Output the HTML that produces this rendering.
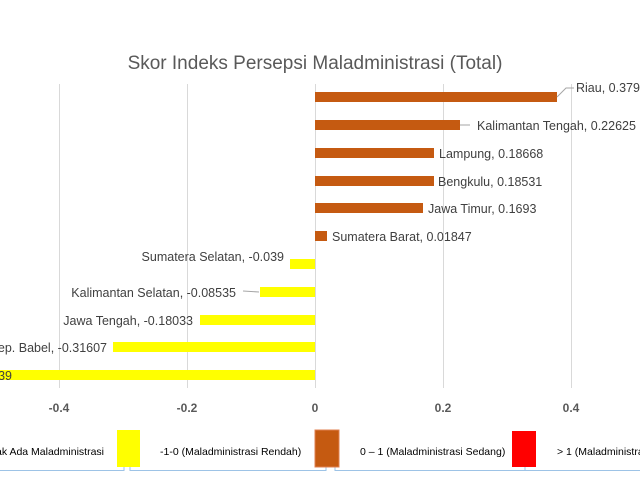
<!DOCTYPE html>
<html><head><meta charset="utf-8"><style>
html,body{margin:0;padding:0;background:#fff;}
svg{display:block;font-family:"Liberation Sans",sans-serif;}
</style></head><body>
<svg width="640" height="480" viewBox="0 0 640 480">
<rect width="640" height="480" fill="#fff"/>
<text x="315" y="69" font-size="19" fill="#595959" text-anchor="middle">Skor Indeks Persepsi Maladministrasi (Total)</text>
<g stroke="#d9d9d9" stroke-width="1">
<line x1="59.5" y1="84" x2="59.5" y2="388"/>
<line x1="187.5" y1="84" x2="187.5" y2="388"/>
<line x1="315.5" y1="84" x2="315.5" y2="388"/>
<line x1="443.5" y1="84" x2="443.5" y2="388"/>
<line x1="571.5" y1="84" x2="571.5" y2="388"/>
</g>
<g fill="#c55a11">
<rect x="315" y="92" width="242" height="10"/>
<rect x="315" y="120" width="145" height="10"/>
<rect x="315" y="148" width="119" height="10"/>
<rect x="315" y="176" width="119" height="10"/>
<rect x="315" y="203" width="108" height="10"/>
<rect x="315" y="231" width="12" height="10"/>
</g>
<g fill="#ffff00">
<rect x="290" y="259" width="25" height="10"/>
<rect x="260" y="287" width="55" height="10"/>
<rect x="200" y="315" width="115" height="10"/>
<rect x="113" y="342" width="202" height="10"/>
<rect x="0" y="370" width="315" height="10"/>
</g>
<g stroke="#a6a6a6" stroke-width="1" fill="none">
<polyline points="557,97 566,88 574,88"/>
<line x1="460" y1="125" x2="470" y2="125"/>
<line x1="243" y1="291" x2="259" y2="292"/>
</g>
<g font-size="12.5" fill="#404040">
<text x="576" y="92">Riau, 0.379</text>
<text x="477" y="130">Kalimantan Tengah, 0.22625</text>
<text x="439" y="158">Lampung, 0.18668</text>
<text x="438" y="186">Bengkulu, 0.18531</text>
<text x="428" y="213">Jawa Timur, 0.1693</text>
<text x="332" y="241">Sumatera Barat, 0.01847</text>
<text x="284" y="261" text-anchor="end">Sumatera Selatan, -0.039</text>
<text x="236" y="297" text-anchor="end">Kalimantan Selatan, -0.08535</text>
<text x="193" y="325" text-anchor="end">Jawa Tengah, -0.18033</text>
<text x="107" y="352" text-anchor="end">Kep. Babel, -0.31607</text>
<text x="12" y="380" text-anchor="end">-0.39</text>
</g>
<g font-size="12" font-weight="bold" fill="#595959" text-anchor="middle">
<text x="59" y="412">-0.4</text>
<text x="187" y="412">-0.2</text>
<text x="315" y="412">0</text>
<text x="443" y="412">0.2</text>
<text x="571" y="412">0.4</text>
</g>
<g stroke="#9dc3e6" stroke-width="1" fill="none">
<polyline points="0,470.5 124,470.5 124,467"/>
<polyline points="130,467 130,470.5 326,470.5 326,467"/>
<polyline points="335,467 335,470.5 640,470.5"/>
<line x1="525" y1="467" x2="525" y2="471"/>
</g>
<rect x="117" y="430" width="23" height="37" fill="#ffff00"/>
<rect x="315" y="430" width="24" height="37" fill="#c55a11" stroke="#e08050" stroke-width="1"/>
<rect x="512" y="431" width="24" height="36" fill="#ff0000"/>
<g font-size="10.5" fill="#000">
<text x="104" y="455" text-anchor="end">Tidak Ada Maladministrasi</text>
<text x="160" y="455">-1-0  (Maladministrasi Rendah)</text>
<text x="360" y="455">0 – 1 (Maladministrasi Sedang)</text>
<text x="557" y="455">&gt; 1  (Maladministrasi Tinggi)</text>
</g>
</svg>
</body></html>
